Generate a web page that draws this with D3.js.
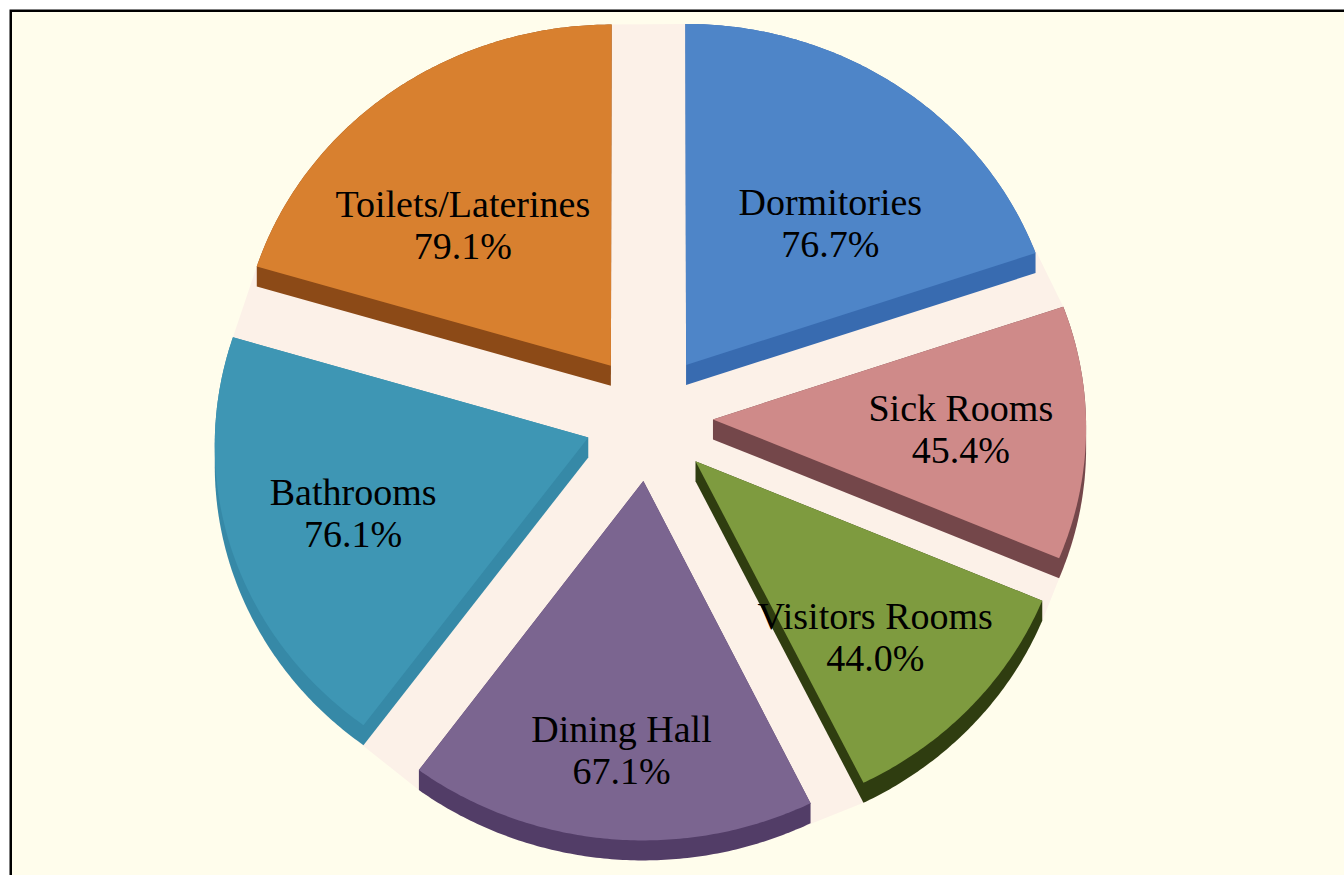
<!DOCTYPE html>
<html>
<head>
<meta charset="utf-8">
<script src="https://cdn.jsdelivr.net/npm/d3@7"></script>
<style>
html, body { margin: 0; padding: 0; background: #fff; }
svg { display: block; }
text { font-family: "Liberation Serif", "Times New Roman", serif; font-size: 38px; fill: #000; }
</style>
</head>
<body>
<svg id="chart"></svg>
<script>
var categories = ["Dormitories", "Sick Rooms", "Visitors Rooms", "Dining Hall", "Bathrooms", "Toilets/Laterines"];
var values = [76.7, 45.4, 44.0, 67.1, 76.1, 79.1];
var fills = ["#4e85c8", "#cf8a89", "#7e9b3f", "#7b6590", "#3e96b4", "#d8802f"];
var sides = ["#386bb0", "#74474a", "#2f3d10", "#523d67", "#3689a7", "#8c4a17"];

var width = 1344, height = 875;
// pie geometry (tilted, slightly in perspective)
var cx = 649, cy = 417, R = 373, explode = 64, tilt = 0.938, depth = 20, persp = 18900;

var color = d3.scaleOrdinal().domain(categories).range(fills);
var sideColor = d3.scaleOrdinal().domain(categories).range(sides);

var svg = d3.select("#chart")
	.attr("width", width)
	.attr("height", height);

// frame
svg.append("rect")
	.attr("x", 10.75).attr("y", 10.75)
	.attr("width", width + 40).attr("height", height + 40)
	.attr("fill", "#fffdec")
	.attr("stroke", "#000")
	.attr("stroke-width", 2.5);

function project(ox, oy, x, y) {
	var s = 1 / (1 - (oy + y) / persp);
	return [cx + (ox + x) * s, cy + (oy + tilt * y) * s];
}

// a context for d3.arc that collects projected points
function sliceContext(ox, oy) {
	var pts = [];
	function add(x, y) { pts.push(project(ox, oy, x, y)); }
	return {
		points: pts,
		moveTo: add,
		lineTo: add,
		arc: function (x, y, r, a0, a1) {
			var n = Math.max(2, Math.ceil(Math.abs(a1 - a0) / 0.01));
			for (var i = 0; i <= n; i++) {
				var a = a0 + (a1 - a0) * i / n;
				add(x + r * Math.cos(a), y + r * Math.sin(a));
			}
		},
		closePath: function () {}
	};
}

var pie = d3.pie().sort(null).value(function (d) { return d.value; });
var arc = d3.arc().innerRadius(0).outerRadius(R);

var rows = categories.map(function (c, i) { return {name: c, value: values[i]}; });
var arcs = pie(rows);

var line = d3.line();
var slices = arcs.map(function (d) {
	var mid = (d.startAngle + d.endAngle) / 2;
	var ox = explode * Math.sin(mid), oy = -explode * Math.cos(mid);
	var ctx = sliceContext(ox, oy);
	arc.context(ctx)(d);
	var top = ctx.points;
	var bottom = top.map(function (p) { return [p[0], p[1] + depth]; });
	// label offset from the slice tip: flatter on the far side, further out on the near side
	var c = Math.cos(mid);
	var apex = project(ox, oy, 0, 0);
	var label = [
		apex[0] + R * 0.665 * Math.sin(mid),
		apex[1] + R * (-0.584 * c + 0.139 * c * c)
	];
	return {
		d: d,
		top: top,
		body: d3.polygonHull(top.concat(bottom)),
		label: label
	};
});

// pale disc behind the exploded slices
var all = [];
slices.forEach(function (s) { all = all.concat(s.body); });
svg.append("path")
	.attr("d", line(d3.polygonHull(all)) + "Z")
	.attr("fill", "#fcf1e8");

var g = svg.append("g");
slices.forEach(function (s) {
	g.append("path")
		.attr("d", line(s.body) + "Z")
		.attr("fill", sideColor(s.d.data.name));
	g.append("path")
		.attr("d", line(s.top) + "Z")
		.attr("fill", color(s.d.data.name));
});

var labels = svg.append("g").attr("text-anchor", "middle");
slices.forEach(function (s) {
	labels.append("text")
		.attr("x", s.label[0])
		.attr("y", s.label[1] - 7)
		.text(s.d.data.name);
	labels.append("text")
		.attr("x", s.label[0])
		.attr("y", s.label[1] + 35)
		.text(d3.format(".1f")(s.d.data.value) + "%");
});
</script>
</body>
</html>
